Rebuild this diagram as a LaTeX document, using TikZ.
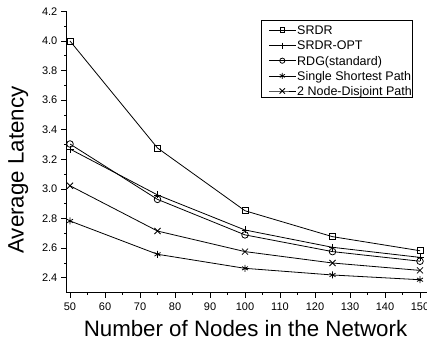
\documentclass[tikz,border=0pt]{standalone}
\usepackage{fontspec}
\setmainfont{Liberation Sans}
\usetikzlibrary{plotmarks}
\tikzset{
  curve/.style={line width=0.8pt, black},
  sqm/.style={mark=square, mark size=2.9pt, mark options={fill=white, solid}},
  plm/.style={mark=+, mark size=3.5pt},
  cim/.style={mark=o, mark size=3.3pt, mark options={fill=white, solid}},
  stm/.style={mark=asterisk, mark size=3.5pt},
  xm/.style={mark=x, mark size=4.3pt},
  legmark/.style={mark indices={2}},
  axisline/.style={line width=0.8pt, black},
  ticklab/.style={inner sep=0pt, font=\fontsize{11}{13}\selectfont},
  leglab/.style={inner sep=0pt, anchor=base west, font=\fontsize{12.5}{15}\selectfont},
  axlab/.style={inner sep=0pt, anchor=base, font=\fontsize{22.3}{26}\selectfont},
}
\begin{document}
\begin{tikzpicture}[x=1pt,y=-1pt]
\useasboundingbox (0,0) rectangle (427,345);
% data scope: (x,v) -> px (-105+3.5x, 633-148v)
\begin{scope}[shift={(-105,633)}, x=3.5pt, y=148pt]
  % axes
  \draw[axisline] (49,4.2) -- (49,2.304) -- (153,2.304);
  % y ticks
  \foreach \v/\l in {2.4/2.4,2.6/2.6,2.8/2.8,3.0/3.0,3.2/3.2,3.4/3.4,3.6/3.6,3.8/3.8,4.0/4.0,4.2/4.2}{
    \draw[axisline] (49,\v) -- ++(-5.5pt,0);
    \node[ticklab, anchor=east] at ([xshift=-9pt]49,\v) {\l};
  }
  \foreach \v in {2.5,2.7,2.9,3.1,3.3,3.5,3.7,3.9,4.1}{
    \draw[axisline] (49,\v) -- ++(-3pt,0);
  }
  % x ticks
  \foreach \x in {50,60,...,150}{
    \draw[axisline] (\x,2.304) -- ++(0,-5.5pt);
    \node[ticklab, anchor=base] at ([yshift=-18pt]\x,2.304) {\x};
  }
  \foreach \x in {55,65,...,145}{
    \draw[axisline] (\x,2.304) -- ++(0,-3pt);
  }
  % curves
  \draw[curve] plot[sqm] coordinates {(50,4.0) (75,3.277) (100,2.853) (125,2.678) (150,2.583)};
  \draw[curve] plot[cim] coordinates {(50,3.304) (75,2.93) (100,2.69) (125,2.577) (150,2.512)};
  \draw[curve] plot[plm] coordinates {(50,3.27) (75,2.96) (100,2.723) (125,2.606) (150,2.538)};
  \draw[curve] plot[xm] coordinates {(50,3.022) (75,2.716) (100,2.577) (125,2.50) (150,2.45)};
  \draw[curve] plot[stm] coordinates {(50,2.784) (75,2.559) (100,2.464) (125,2.419) (150,2.387)};
\end{scope}
% axis labels
\node[axlab] (xl) at (245.5,336.5) {Number of Nodes in the Network};
\node[axlab, rotate=90] (yl) at (23.5,170) {Average Latency};
% legend
\draw[line width=0.8pt] (261.7,20) rectangle (412.7,97.3);
\draw[curve] plot[sqm, legmark, mark size=2.4pt] coordinates {(269,30.3) (282.3,30.3) (295.7,30.3)};
\node[leglab] (l1) at (297,34.6) {SRDR};
\draw[curve] plot[plm, legmark, mark size=3pt] coordinates {(269,45.5) (282.3,45.5) (295.7,45.5)};
\node[leglab] (l2) at (297,49.8) {SRDR-OPT};
\draw[curve] plot[cim, legmark, mark size=2.6pt] coordinates {(269,60.7) (282.3,60.7) (295.7,60.7)};
\node[leglab] (l3) at (297,65) {RDG(standard)};
\draw[curve] plot[stm, legmark, mark size=3pt] coordinates {(269,75.9) (282.3,75.9) (295.7,75.9)};
\node[leglab] (l4) at (297,80.2) {Single Shortest Path};
\draw[curve] plot[xm, legmark, mark size=3.8pt] coordinates {(269,91) (282.3,91) (295.7,91)};
\node[leglab] (l5) at (297,95.3) {2 Node-Disjoint Path};
\end{tikzpicture}
\end{document}
